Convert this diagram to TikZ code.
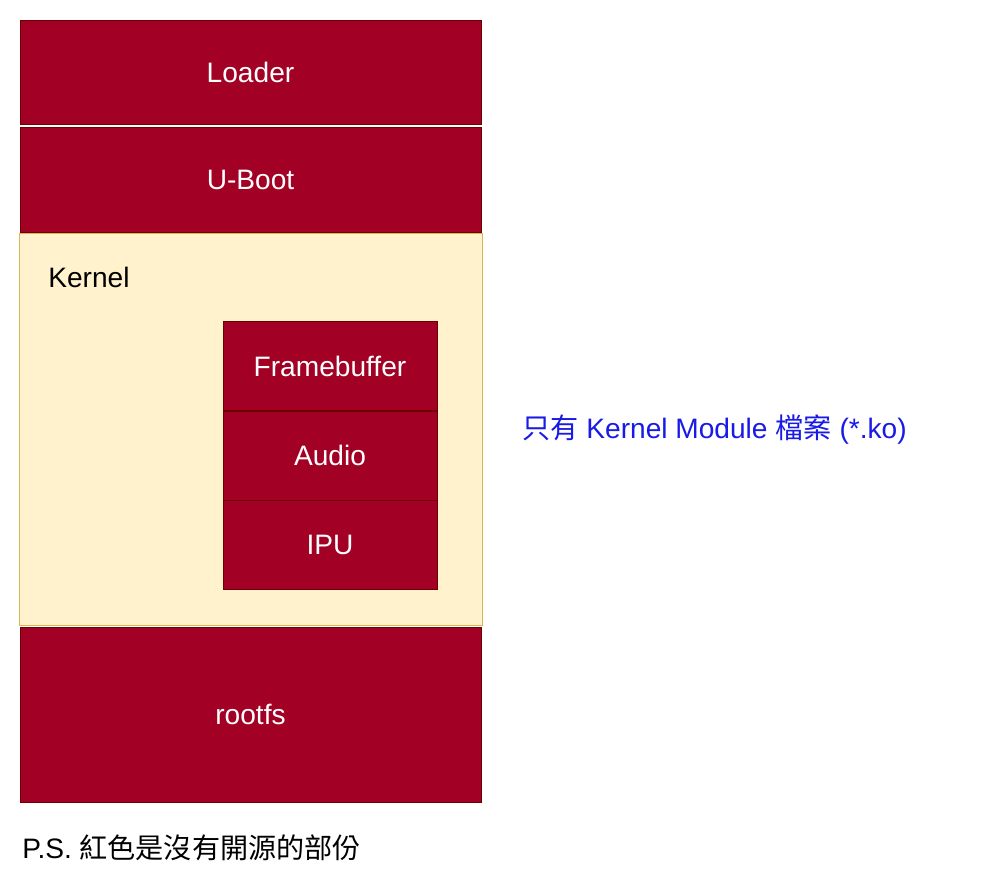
\documentclass[tikz,border=0pt]{standalone}
\usepackage{fontspec}
\setmainfont{Liberation Sans}
\newfontfamily\cjk{Noto Sans CJK TC}
\definecolor{closedred}{HTML}{A20025}
\definecolor{closededge}{HTML}{6F0000}
\definecolor{kernelfill}{HTML}{FFF2CC}
\definecolor{kerneledge}{HTML}{D6B656}
\definecolor{noteblue}{HTML}{1A1AE6}
\tikzset{
	closedbox/.style={draw=closededge, fill=closedred, text=white, line width=0.5pt, inner sep=0pt, minimum width=9.22cm},
	modbox/.style={closedbox, minimum width=4.28cm, minimum height=1.78cm},
	label/.style={anchor=west, inner sep=0pt}
}
\begin{document}
\begin{tikzpicture}[x=0.02cm, y=-0.02cm, font=\fontsize{16}{19}\selectfont]
			\useasboundingbox[fill=white] (0,0) rectangle (1000,893);
			% 上层
			\node[closedbox, minimum height=2.08cm] (loader) at (250.5,72) {Loader};
			\node[closedbox, minimum height=2.1cm] (uboot) at (250.5,179.5) {U-Boot};
			% Kernel
			\node[draw=kerneledge, fill=kernelfill, line width=0.5pt, minimum width=9.26cm, minimum height=7.84cm] (kernel) at (250.5,429) {};
			\node[label] (kernellabel) at (48,277) {Kernel};
			\foreach \name/\y/\txt in {fb/366/Framebuffer, audio/455.5/Audio, ipu/544.5/IPU} {
				\node[modbox] (\name) at (330,\y) {\txt};
			}
			% rootfs
			\node[closedbox, minimum height=3.5cm] (rootfs) at (250.5,714.5) {rootfs};
			% 说明
			\node[label, text=noteblue] (note) at (522,430) {{\cjk 只有} Kernel Module {\cjk 檔案} (*.ko)};
			\node[label] (ps) at (22,848) {P.S. {\cjk 紅色是沒有開源的部份}};
		\end{tikzpicture}
\end{document}
